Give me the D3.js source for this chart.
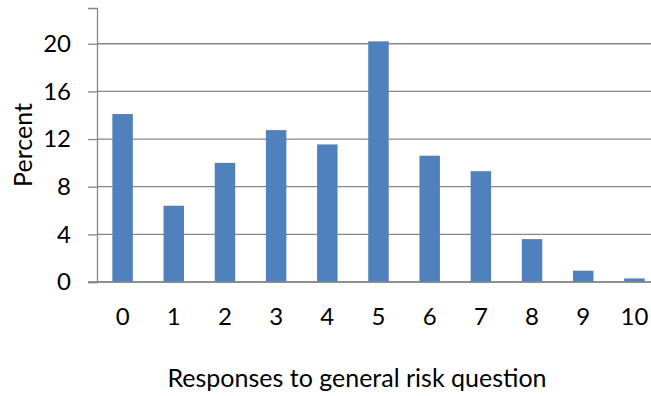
<!DOCTYPE html>
<html>
<head>
<meta charset="utf-8">
<script src="https://cdn.jsdelivr.net/npm/d3@7"></script>
<style>
  html, body { margin: 0; padding: 0; background: #fff; }
  svg { display: block; }
  text { font-family: Lato, "Open Sans", sans-serif; fill: #000; }
</style>
</head>
<body>
<svg id="chart" width="651" height="396"></svg>
<script>
// Share of respondents giving each answer on the 0–10 general risk scale
const categories = ["0", "1", "2", "3", "4", "5", "6", "7", "8", "9", "10"];
const percents = [14.1, 6.4, 10.0, 12.75, 11.55, 20.2, 10.6, 9.3, 3.6, 0.95, 0.3];
const yTicks = [0, 4, 8, 12, 16, 20];

const W = 651, H = 396;
const margin = { left: 97, top: 8, right: -9, bottom: 114 };
const x0 = margin.left, x1 = W - margin.right;
const yBottom = H - margin.bottom, yTop = margin.top;
const tickFont = 24;

const svg = d3.select("#chart");

const x = d3.scaleBand().domain(categories).range([x0, x1]).paddingInner(0.6).paddingOuter(0.3);
const y = d3.scaleLinear().domain([0, 23]).range([yBottom, yTop]);

const gridColor = "#878787";

// horizontal gridlines
svg.append("g")
  .selectAll("line")
  .data(yTicks)
  .join("line")
  .attr("x1", x0).attr("x2", W)
  .attr("y1", d => y(d)).attr("y2", d => y(d))
  .attr("stroke", gridColor).attr("stroke-width", 1.3);

// bars
svg.append("g")
  .selectAll("rect")
  .data(percents)
  .join("rect")
  .attr("x", (d, i) => x(categories[i]))
  .attr("width", x.bandwidth())
  .attr("y", d => y(d))
  .attr("height", d => y(0) - y(d))
  .attr("fill", "#4F81BD");

// y axis
const yAxis = svg.append("g")
  .attr("transform", `translate(${x0},0)`)
  .call(d3.axisLeft(y).tickValues(yTicks).tickSize(9).tickPadding(17).tickFormat(d3.format("d")));
yAxis.select(".domain").attr("stroke", gridColor).attr("stroke-width", 1.3);
yAxis.selectAll(".tick line").attr("stroke", gridColor).attr("stroke-width", 1.3);
yAxis.selectAll(".tick text").attr("font-size", tickFont).attr("font-family", "Lato, sans-serif").attr("fill", "#000");

// x axis
const xAxis = svg.append("g")
  .attr("transform", `translate(0,${yBottom})`)
  .call(d3.axisBottom(x).tickSize(0).tickPadding(26));
xAxis.select(".domain").remove();
xAxis.append("line").attr("x1", x0 - 9).attr("x2", W).attr("stroke", gridColor).attr("stroke-width", 1.3);
xAxis.selectAll(".tick text").attr("font-size", tickFont).attr("font-family", "Lato, sans-serif").attr("fill", "#000");

// axis titles
svg.append("text")
  .attr("transform", `translate(32,${(yTop + yBottom) / 2}) rotate(-90)`)
  .attr("text-anchor", "middle")
  .attr("font-size", 25)
  .text("Percent");

svg.append("text")
  .attr("x", 357).attr("y", 387)
  .attr("text-anchor", "middle")
  .attr("font-size", 25)
  .text("Responses to general risk question");
</script>
</body>
</html>
